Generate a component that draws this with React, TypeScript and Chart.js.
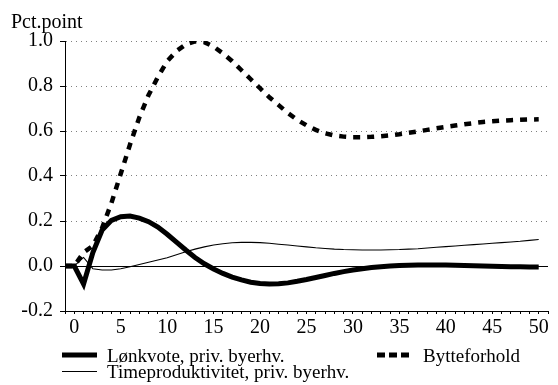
import { useEffect, useRef } from "react";
import { Chart, registerables } from "chart.js";

Chart.register(...registerables);

// Quarters after the shock (period -1 is the baseline)
const periods = [
  -1, 0, 1, 2, 3, 4, 5, 6, 7, 8, 9, 10, 11, 12, 13, 14, 15, 16, 17, 18, 19, 20,
  21, 22, 23, 24, 25, 26, 27, 28, 29, 30, 31, 32, 33, 34, 35, 36, 37, 38, 39, 40,
  41, 42, 43, 44, 45, 46, 47, 48, 49, 50,
];

const loenkvote = [
  0, 0, -0.08, 0.06, 0.16, 0.203, 0.219, 0.222, 0.213, 0.197, 0.173, 0.141,
  0.106, 0.071, 0.038, 0.01, -0.013, -0.033, -0.049, -0.062, -0.072, -0.078,
  -0.08, -0.079, -0.075, -0.068, -0.06, -0.051, -0.042, -0.033, -0.025, -0.018,
  -0.012, -0.007, -0.003, 0.0, 0.002, 0.003, 0.004, 0.004, 0.004, 0.004, 0.003,
  0.002, 0.001, 0.0, -0.001, -0.002, -0.003, -0.003, -0.004, -0.004,
];

const timeproduktivitet = [
  0, 0, 0.038, -0.012, -0.018, -0.018, -0.012, -0.003, 0.007, 0.017, 0.027,
  0.037, 0.05, 0.063, 0.075, 0.085, 0.093, 0.099, 0.103, 0.105, 0.105, 0.104,
  0.101, 0.097, 0.093, 0.089, 0.085, 0.081, 0.078, 0.075, 0.073, 0.072, 0.071,
  0.071, 0.071, 0.072, 0.073, 0.075, 0.077, 0.08, 0.083, 0.086, 0.089, 0.092,
  0.095, 0.098, 0.101, 0.104, 0.107, 0.11, 0.114, 0.118,
];

const bytteforhold = [
  0, 0, 0.06, 0.09, 0.17, 0.28, 0.41, 0.54, 0.66, 0.76, 0.84, 0.91, 0.955,
  0.985, 0.998, 0.995, 0.975, 0.945, 0.91, 0.87, 0.83, 0.79, 0.75, 0.715, 0.68,
  0.65, 0.625, 0.605, 0.59, 0.58, 0.575, 0.572, 0.572, 0.574, 0.577, 0.581,
  0.586, 0.592, 0.598, 0.605, 0.612, 0.618, 0.624, 0.63, 0.635, 0.64, 0.643,
  0.646, 0.648, 0.65, 0.651, 0.652,
];

const yTickValues = [-0.2, 0.0, 0.2, 0.4, 0.6, 0.8, 1.0];
const xLabelEvery = 5;
const unitLabel = "Pct.point";
const seriesNames = [
  "Lønkvote, priv. byerhv.",
  "Timeproduktivitet, priv. byerhv.",
  "Bytteforhold",
];

const FONT_FAMILY = "'Liberation Serif', 'Times New Roman', serif";
const TICK_FONT_SIZE = 20;
const LEGEND_FONT_SIZE = 19;

const toPoints = (values: number[]) =>
  values.map((y, i) => ({ x: periods[i], y }));

const overlayPlugin = {
  id: "overlay",
  beforeDatasetsDraw(chart: any) {
    const { ctx, chartArea, scales } = chart;
    const y0 = Math.round(scales.y.getPixelForValue(0)) + 0.5;
    ctx.save();
    ctx.strokeStyle = "#000";
    ctx.lineWidth = 1;
    ctx.beginPath();
    ctx.moveTo(chartArea.left, y0);
    ctx.lineTo(chartArea.right, y0);
    ctx.stroke();
    ctx.restore();
  },
  afterDraw(chart: any) {
    const { ctx, chartArea } = chart;
    ctx.save();
    ctx.fillStyle = "#000";
    ctx.textAlign = "left";
    ctx.textBaseline = "alphabetic";

    // unit label above the value axis
    ctx.font = `${TICK_FONT_SIZE}px ${FONT_FAMILY}`;
    ctx.fillText(unitLabel, 11, 27.5);

    // legend
    ctx.font = `${LEGEND_FONT_SIZE}px ${FONT_FAMILY}`;
    const sx0 = chartArea.left - 3;
    const sx1 = sx0 + 35;
    const textX = sx1 + 10;

    ctx.strokeStyle = "#000";
    ctx.lineCap = "butt";

    ctx.lineWidth = 5;
    ctx.setLineDash([]);
    ctx.beginPath();
    ctx.moveTo(sx0, 355);
    ctx.lineTo(sx1, 355);
    ctx.stroke();
    ctx.fillText(seriesNames[0], textX, 362);

    ctx.lineWidth = 1;
    ctx.beginPath();
    ctx.moveTo(sx0, 371.5);
    ctx.lineTo(sx1, 371.5);
    ctx.stroke();
    ctx.fillText(seriesNames[1], textX, 377.5);

    ctx.lineWidth = 5;
    ctx.setLineDash([8, 4]);
    ctx.beginPath();
    ctx.moveTo(377, 355);
    ctx.lineTo(409, 355);
    ctx.stroke();
    ctx.setLineDash([]);
    ctx.fillText(seriesNames[2], 423, 362);

    ctx.restore();
  },
};

export default function App() {
  const canvasRef = useRef<HTMLCanvasElement | null>(null);

  useEffect(() => {
    const canvas = canvasRef.current;
    if (!canvas) return;

    const chart = new Chart(canvas, {
      type: "line",
      data: {
        datasets: [
          {
            label: seriesNames[2],
            data: toPoints(bytteforhold),
            borderColor: "#000",
            borderWidth: 4.5,
            borderDash: [7, 7],
            pointRadius: 0,
            tension: 0,
            order: 0,
          },
          {
            label: seriesNames[0],
            data: toPoints(loenkvote),
            borderColor: "#000",
            borderWidth: 5,
            pointRadius: 0,
            tension: 0,
            order: 1,
          },
          {
            label: seriesNames[1],
            data: toPoints(timeproduktivitet),
            borderColor: "#000",
            borderWidth: 1.1,
            pointRadius: 0,
            tension: 0,
            order: 2,
          },
        ],
      },
      options: {
        animation: false,
        responsive: true,
        maintainAspectRatio: false,
        devicePixelRatio: 1,
        layout: { padding: { top: 41, right: 10, left: 0, bottom: 0 } },
        plugins: {
          legend: { display: false },
          title: { display: false },
          tooltip: { enabled: false },
        },
        scales: {
          x: {
            type: "linear",
            min: -1,
            max: 51,
            afterFit(scale: any) {
              scale.height = 74;
            },
            ticks: {
              stepSize: 1,
              autoSkip: false,
              maxRotation: 0,
              padding: 2,
              color: "#000",
              font: { family: FONT_FAMILY, size: TICK_FONT_SIZE },
              callback: (v: any) =>
                v >= 0 && v % xLabelEvery === 0 ? String(v) : "",
            },
            grid: {
              drawOnChartArea: false,
              drawTicks: true,
              tickLength: 3,
              tickColor: "#000",
              tickWidth: 1,
            },
            border: { display: true, color: "#000", width: 1 },
          },
          y: {
            type: "linear",
            min: -0.2,
            max: 1.0,
            afterFit(scale: any) {
              scale.width = 65;
            },
            afterBuildTicks(scale: any) {
              scale.ticks = yTickValues.map((value) => ({ value }));
            },
            ticks: {
              padding: 7,
              color: "#000",
              font: { family: FONT_FAMILY, size: TICK_FONT_SIZE },
              callback: (v: any) => Number(v).toFixed(1),
            },
            grid: {
              drawOnChartArea: true,
              drawTicks: true,
              tickLength: 5,
              tickColor: "#000",
              lineWidth: 1,
              color: (c: any) =>
                c.tick && (Math.abs(c.tick.value) < 1e-9 || c.tick.value < -0.1)
                  ? "rgba(0,0,0,0)"
                  : "#808080",
            },
            border: { display: true, color: "#000", width: 1, dash: [1, 4] },
          },
        },
      },
      plugins: [overlayPlugin],
    });

    return () => chart.destroy();
  }, []);

  return (
    <div
      style={{
        position: "fixed",
        left: 0,
        top: 0,
        width: 558,
        height: 385,
        background: "#fff",
      }}
    >
      <canvas ref={canvasRef} />
    </div>
  );
}
